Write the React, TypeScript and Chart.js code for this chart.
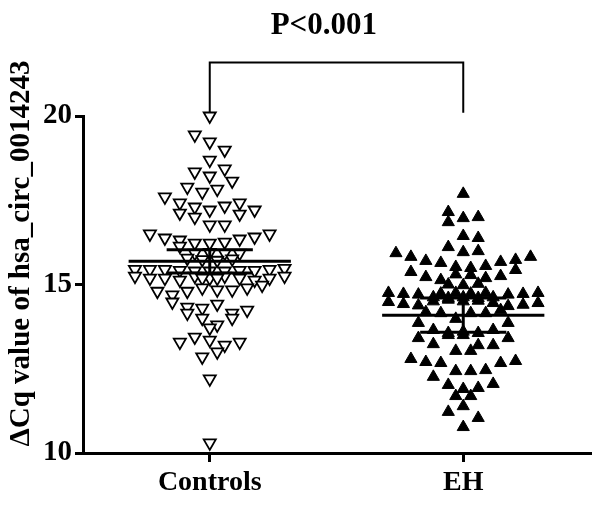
import React, { useEffect, useRef } from "react";
import { Chart, registerables } from "chart.js";

Chart.register(...registerables);

// ---------- data ----------
const categories = ["Controls", "EH"];

// each inner array is one row of the dot plot (values read left to right)
const controlsRows: number[][] = [
  [20.0],
  [19.44, 19.23, 18.99],
  [18.69],
  [18.34, 18.22, 18.43],
  [17.89, 17.74, 17.83, 18.07],
  [17.6, 17.42, 17.3, 17.21, 17.33, 17.42, 17.21],
  [17.12, 17.0, 16.77, 16.77, 17.09],
  [16.5, 16.38, 16.32, 16.23, 16.23, 16.26, 16.35, 16.41, 16.5],
  [16.14, 15.93, 15.95, 15.93, 15.93],
  [15.78, 15.74, 15.72, 15.76],
  [15.45, 15.45, 15.45, 15.42, 15.4, 15.4, 15.4, 15.42, 15.42, 15.45, 15.48],
  [15.25, 15.19, 15.19, 15.13, 15.25, 15.19, 15.25, 15.19, 15.13, 15.19, 15.25],
  [15.19, 15.19],
  [14.8, 14.69, 14.8, 14.9, 14.84, 14.84, 14.9, 14.98],
  [14.48, 14.33, 14.3, 14.42, 14.15, 14.24],
  [14.15, 14.0, 13.8, 14.0],
  [13.71],
  [13.29, 13.44, 13.35, 13.2, 13.29],
  [12.85, 13.0],
  [12.2],
  [10.3],
];

const ehRows: number[][] = [
  [17.69],
  [17.15, 16.97, 17.0],
  [16.85, 16.44, 16.38],
  [16.11, 15.96, 15.99],
  [15.93, 15.82, 15.7, 15.64, 15.52, 15.49, 15.55, 15.67, 15.73, 15.82],
  [15.37, 15.22, 15.13, 15.3, 15.28, 15.19, 15.25, 15.43],
  [15.0, 14.98, 15.02],
  [14.75, 14.72, 14.7, 14.62, 14.6, 14.62, 14.6, 14.62, 14.7, 14.72, 14.75],
  [14.73, 14.75, 14.73, 14.75],
  [14.48, 14.42, 14.38, 14.5, 14.55, 14.5, 14.52, 14.45, 14.36, 14.4, 14.45],
  [14.18, 14.15, 13.98, 14.15, 14.15, 14.24],
  [13.86, 13.65, 13.56, 13.6, 13.56, 13.65, 13.86],
  [13.41, 13.23, 13.5, 13.5, 13.2, 13.2, 13.41],
  [13.03, 13.03],
  [12.79, 12.7, 12.67, 12.43, 12.43, 12.46, 12.67, 12.73],
  [12.26, 12.02, 11.9, 11.93, 12.05],
  [11.69, 11.69],
  [11.22, 11.39, 11.04],
  [10.77],
];

const groupMeans = [15.69, 14.09];
const groupLower = [15.34, 13.58];
const groupUpper = [16.03, 14.6];

const yTickValues = [10, 15, 20];
const yMin = 10;
const yMax = 20;
const pValueText = "P<0.001";
const yAxisTitle = "\u0394Cq value of hsa_circ_0014243";

// ---------- layout / style constants ----------
const FONT = "'Liberation Serif', 'Times New Roman', serif";
const CENTERS = [0.5, 1.5];
const SLOT = 0.059; // horizontal spacing of symbols (x-units)
const MEAN_HALF = 0.32;
const CI_HALF = 0.17;
const BRACKET_TOP = 21.6;
const BRACKET_LEFT_END = 20.12;
const BRACKET_RIGHT_END = 20.1;

function layoutRows(rows: number[][], center: number) {
  const pts: { x: number; y: number }[] = [];
  rows.forEach((row) => {
    const n = row.length;
    row.forEach((v, i) => {
      pts.push({ x: center + (i - (n - 1) / 2) * SLOT, y: v });
    });
  });
  return pts;
}

const overlayPlugin = {
  id: "overlay",
  afterDatasetsDraw(chart: any) {
    const { ctx, scales } = chart;
    const x = scales.x;
    const y = scales.y;
    ctx.save();
    ctx.strokeStyle = "#000";
    ctx.lineWidth = 3;
    ctx.lineCap = "butt";
    CENTERS.forEach((c, i) => {
      const cx = x.getPixelForValue(c);
      const mHalf = x.getPixelForValue(c + MEAN_HALF) - cx;
      const eHalf = x.getPixelForValue(c + CI_HALF) - cx;
      const ym = y.getPixelForValue(groupMeans[i]);
      const yl = y.getPixelForValue(groupLower[i]);
      const yu = y.getPixelForValue(groupUpper[i]);
      ctx.beginPath();
      ctx.moveTo(cx - mHalf, ym);
      ctx.lineTo(cx + mHalf, ym);
      ctx.moveTo(cx - eHalf, yl);
      ctx.lineTo(cx + eHalf, yl);
      ctx.moveTo(cx - eHalf, yu);
      ctx.lineTo(cx + eHalf, yu);
      ctx.moveTo(cx, yl);
      ctx.lineTo(cx, yu);
      ctx.stroke();
    });
    ctx.restore();
  },
  afterDraw(chart: any) {
    const { ctx, scales, chartArea } = chart;
    const x = scales.x;
    const y = scales.y;
    ctx.save();
    // significance bracket
    const xl = x.getPixelForValue(CENTERS[0]);
    const xr = x.getPixelForValue(CENTERS[1]);
    const yt = Math.round(y.getPixelForValue(BRACKET_TOP)) + 0.5;
    ctx.strokeStyle = "#000";
    ctx.lineWidth = 2;
    ctx.beginPath();
    ctx.moveTo(xl, y.getPixelForValue(BRACKET_LEFT_END));
    ctx.lineTo(xl, yt);
    ctx.lineTo(xr, yt);
    ctx.lineTo(xr, y.getPixelForValue(BRACKET_RIGHT_END));
    ctx.stroke();
    // p value
    ctx.fillStyle = "#000";
    ctx.font = `bold 31px ${FONT}`;
    ctx.textAlign = "center";
    ctx.textBaseline = "middle";
    ctx.fillText(pValueText, x.getPixelForValue(0.95), 26);
    // y-axis title
    ctx.translate(chartArea.left - 61, (chartArea.top + chartArea.bottom) / 2 - 31);
    ctx.rotate(-Math.PI / 2);
    ctx.font = `bold 29px ${FONT}`;
    ctx.textAlign = "center";
    ctx.textBaseline = "middle";
    ctx.fillText(yAxisTitle, 0, 0);
    ctx.restore();
  },
};

export default function App() {
  const canvasRef = useRef<HTMLCanvasElement | null>(null);

  useEffect(() => {
    const canvas = canvasRef.current;
    if (!canvas) return;
    const chart = new Chart(canvas, {
      type: "scatter",
      data: {
        datasets: [
          {
            label: categories[0],
            data: layoutRows(controlsRows, CENTERS[0]),
            pointStyle: "triangle",
            rotation: 180,
            radius: 7,
            backgroundColor: "#ffffff",
            borderColor: "#000000",
            borderWidth: 1.8,
            clip: false,
          } as any,
          {
            label: categories[1],
            data: layoutRows(ehRows, CENTERS[1]),
            pointStyle: "triangle",
            rotation: 0,
            radius: 7,
            backgroundColor: "#000000",
            borderColor: "#000000",
            borderWidth: 1,
            clip: false,
          } as any,
        ],
      },
      options: {
        animation: false,
        responsive: false,
        events: [],
        layout: { padding: { top: 116, right: 12, bottom: 0, left: 0 } },
        plugins: {
          legend: { display: false },
          tooltip: { enabled: false },
          title: { display: false },
        },
        scales: {
          x: {
            type: "linear",
            min: 0,
            max: 2,
            afterBuildTicks: (s: any) => {
              s.ticks = CENTERS.map((v) => ({ value: v }));
            },
            afterFit: (s: any) => {
              s.height = 61;
            },
            ticks: {
              autoSkip: false,
              maxRotation: 0,
              padding: 4,
              color: "#000",
              font: { family: FONT, size: 28, weight: "bold" },
              callback: (_v: any, i: number) => categories[i],
            },
            grid: {
              drawOnChartArea: false,
              drawTicks: true,
              tickLength: 9,
              lineWidth: 3,
              color: "#000",
            },
            border: { display: true, color: "#000", width: 3 },
          },
          y: {
            type: "linear",
            min: yMin,
            max: yMax,
            afterBuildTicks: (s: any) => {
              s.ticks = yTickValues.map((v) => ({ value: v }));
            },
            afterFit: (s: any) => {
              s.width = 83;
            },
            ticks: {
              padding: 3,
              color: "#000",
              font: { family: FONT, size: 29, weight: "bold" },
            },
            grid: {
              drawOnChartArea: false,
              drawTicks: true,
              tickLength: 8,
              lineWidth: 3,
              color: "#000",
            },
            border: { display: true, color: "#000", width: 3 },
          },
        },
      } as any,
      plugins: [overlayPlugin],
    });
    return () => chart.destroy();
  }, []);

  return (
    <div
      style={{
        position: "fixed",
        left: 0,
        top: 0,
        width: 602,
        height: 514,
        background: "#fff",
      }}
    >
      <canvas ref={canvasRef} width={602} height={514} style={{ display: "block" }} />
    </div>
  );
}
